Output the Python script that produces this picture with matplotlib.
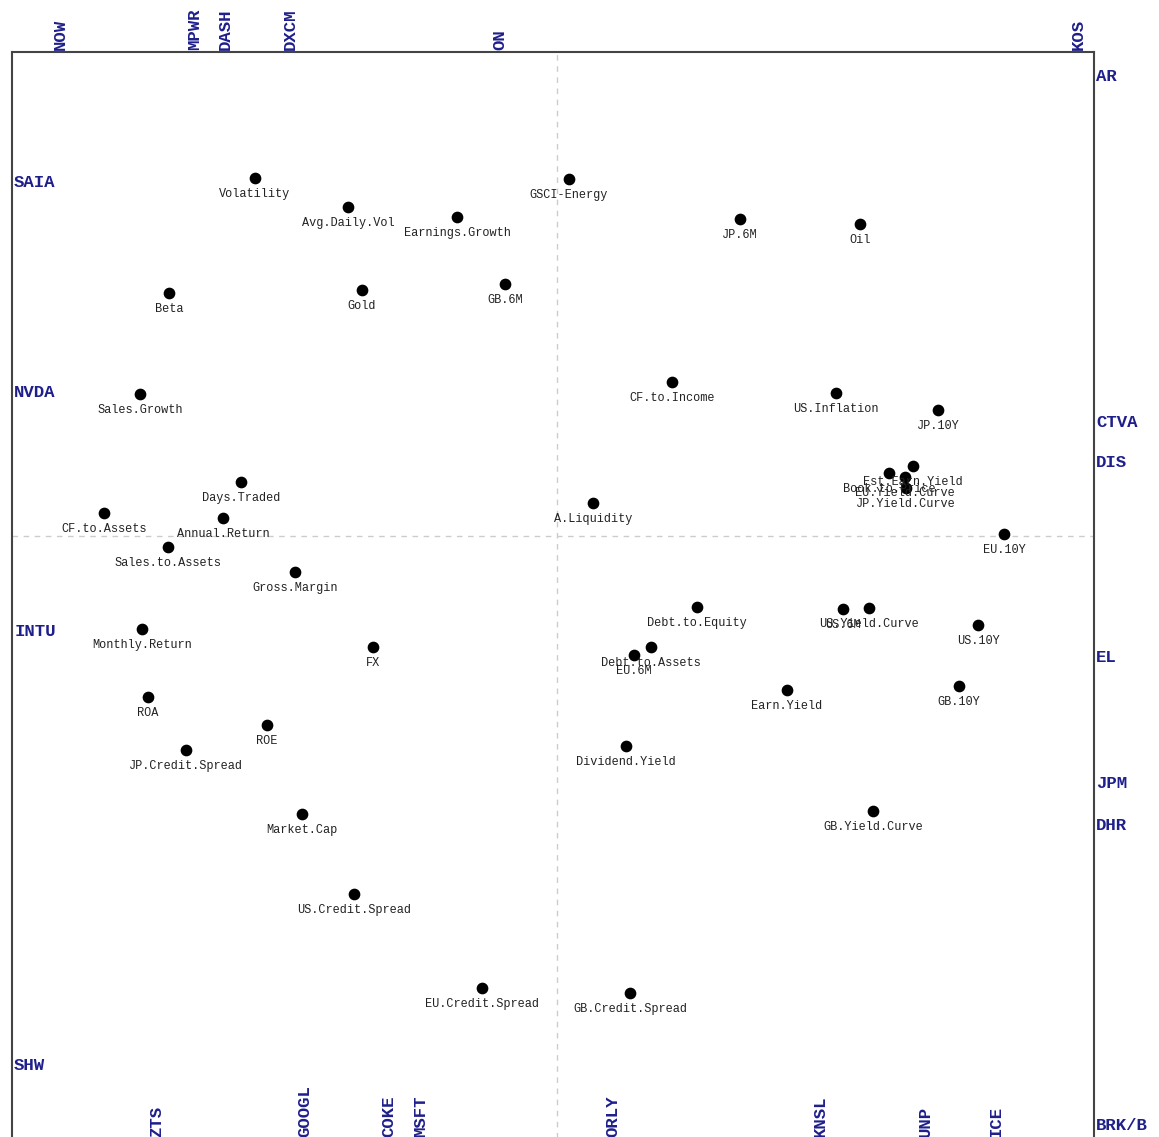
import matplotlib.pyplot as plt

# factor scores
names = ['Volatility', 'Avg.Daily.Vol', 'Earnings.Growth', 'GSCI-Energy', 'JP.6M', 'Oil',
         'Beta', 'Gold', 'GB.6M', 'Sales.Growth', 'CF.to.Income', 'US.Inflation', 'JP.10Y',
         'Est.Earn.Yield', 'Book.to.Price', 'EU.Yield.Curve', 'JP.Yield.Curve',
         'Days.Traded', 'CF.to.Assets', 'Annual.Return', 'A.Liquidity', 'EU.10Y',
         'Sales.to.Assets', 'Gross.Margin', 'Debt.to.Equity', 'US.6M', 'US.Yield.Curve',
         'US.10Y', 'Monthly.Return', 'FX', 'Debt.to.Assets', 'EU.6M', 'Earn.Yield',
         'GB.10Y', 'ROA', 'ROE', 'JP.Credit.Spread', 'Dividend.Yield', 'GB.Yield.Curve',
         'Market.Cap', 'US.Credit.Spread', 'EU.Credit.Spread', 'GB.Credit.Spread']
xs = [-3.02, -2.09, -1.00, 0.12, 1.83, 3.03,
      -3.88, -1.95, -0.52, -4.17, 1.15, 2.79, 3.81,
      3.56, 3.32, 3.48, 3.49,
      -3.16, -4.53, -3.34, 0.36, 4.47,
      -3.89, -2.62, 1.40, 2.86, 3.12,
      4.21, -4.15, -1.84, 0.94, 0.77, 2.30,
      4.02, -4.09, -2.90, -3.71, 0.69, 3.16,
      -2.55, -2.03, -0.75, 0.73]
ys = [3.58, 3.29, 3.19, 3.57, 3.17, 3.12,
      2.43, 2.46, 2.52, 1.42, 1.54, 1.43, 1.26,
      0.70, 0.63, 0.59, 0.48,
      0.54, 0.23, 0.18, 0.33, 0.02,
      -0.11, -0.36, -0.71, -0.73, -0.72,
      -0.89, -0.93, -1.11, -1.11, -1.19, -1.54,
      -1.50, -1.61, -1.89, -2.14, -2.10, -2.75,
      -2.78, -3.58, -4.52, -4.57]

# tickers around the frame
top_tk = ['NOW', 'MPWR', 'DASH', 'DXCM', 'ON', 'KOS']
top_x = [-4.97, -3.62, -3.32, -2.67, -0.57, 5.21]
bot_tk = ['ZTS', 'GOOGL', 'COKE', 'MSFT', 'ORLY', 'KNSL', 'UNP', 'ICE']
bot_x = [-4.00, -2.52, -1.68, -1.36, 0.56, 2.63, 3.68, 4.39]
left_tk = ['SAIA', 'NVDA', 'INTU', 'SHW']
left_y = [3.53, 1.43, -0.96, -5.30]
right_tk = ['AR', 'CTVA', 'DIS', 'EL', 'JPM', 'DHR', 'BRK/B']
right_y = [4.59, 1.13, 0.73, -1.22, -2.47, -2.89, -5.89]

W, H = 1159, 1137
fig = plt.figure(figsize=(W / 100, H / 100), dpi=100)
ax = fig.add_axes([12 / W, -10 / H, 1082 / W, 1095 / H])
ax.set_xlim(-5.45, 5.37)
ax.set_ylim(-6.11, 4.84)
ax.set_xticks([])
ax.set_yticks([])
for s in ax.spines.values():
    s.set_color('#444444')
    s.set_linewidth(1.5)

ax.axvline(0, color='#cccccc', ls='--', lw=1, dashes=(4, 4))
ax.axhline(0, color='#cccccc', ls='--', lw=1, dashes=(4, 4))

mono = 'Liberation Mono'
ax.scatter(xs, ys, s=55, color='black', zorder=3)
for n, x, y in zip(names, xs, ys):
    ax.annotate(n, (x, y), xytext=(0, -11.5), textcoords='offset points',
                ha='center', va='center', fontsize=8.6, family=mono, color='#222222')

navy = '#1f1f8c'
tk = dict(family=mono, fontweight='bold', fontsize=12.5, color=navy)
xt = ax.get_xaxis_transform()
yt = ax.get_yaxis_transform()
for t, x in zip(top_tk, top_x):
    ax.text(x, 1.002, t, transform=xt, rotation=90, ha='center', va='bottom', **tk)
for t, x in zip(bot_tk, bot_x):
    ax.text(x, 0.009, t, transform=xt, rotation=90, ha='center', va='bottom', **tk)
for t, y in zip(left_tk, left_y):
    ax.text(0.002, y, t, transform=yt, ha='left', va='center', **tk)
for t, y in zip(right_tk, right_y):
    ax.text(1.002, y, t, transform=yt, ha='left', va='center', clip_on=False, **tk)

fig.savefig('out.png', dpi=100)
